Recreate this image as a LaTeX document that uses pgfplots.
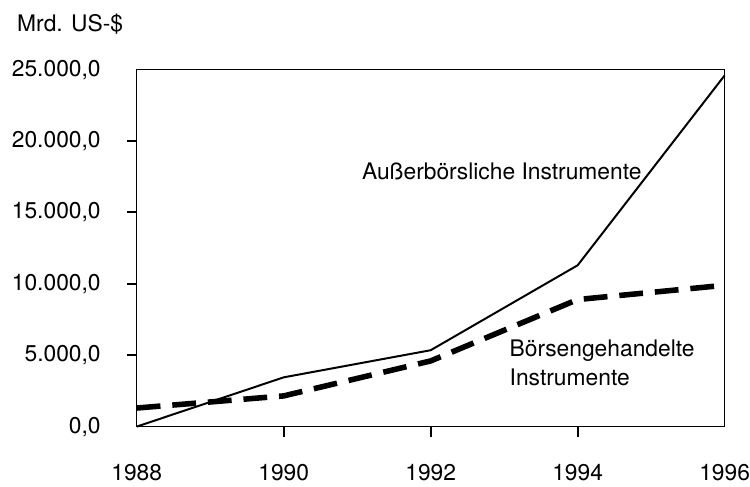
\documentclass[border={6pt 3pt 0pt 7pt}]{standalone}
\usepackage{pgfplots}
\pgfplotsset{compat=1.18}
\usepackage{fontspec}
\setmainfont{TeX Gyre Heros}
\begin{document}
\begin{tikzpicture}
\fontsize{11.5}{13}\selectfont
\begin{axis}[
  width=296.5pt, height=180pt, scale only axis,
  xmin=1988, xmax=1996, ymin=0, ymax=25000,
  axis line style={line width=0.7pt},
  xtick={1988,1990,1992,1994,1996},
  ytick={0,5000,10000,15000,20000,25000},
  major tick length=0pt,
  xticklabel style={/pgf/number format/.cd, 1000 sep={}, assume math mode=true, /tikz/.cd, inner sep=0pt, anchor=center, yshift=-23pt, font=\fontsize{11.5}{13}\selectfont},
  yticklabel style={/pgf/number format/.cd, fixed, fixed zerofill, precision=1, use comma, 1000 sep={.}, assume math mode=true, /tikz/.cd, inner sep=0pt, xshift=-18pt, anchor=east, font=\fontsize{11.5}{13}\selectfont},
  scaled y ticks=false,
  clip=false,
]
\pgfplotsinvokeforeach{5000,10000,15000,20000}{
  \draw[black, line width=1pt] (axis cs:1988,#1) -- ++(-5pt,0pt);}
\pgfplotsinvokeforeach{1990,1992,1994}{
  \draw[black, line width=1pt] (axis cs:#1,0) -- ++(0pt,-5pt);}
\addplot[black, line width=1pt] coordinates {
  (1988,0) (1990,3450) (1992,5350) (1994,11300) (1996,24600)};
\addplot[black, line width=2.8pt, dash pattern=on 12pt off 6pt] coordinates {
  (1988,1300) (1990,2150) (1992,4600) (1994,8900) (1996,9900)};
\node[anchor=west, inner sep=0pt] at (axis cs:1991.06,17900) {Außerbörsliche Instrumente};
\node[anchor=west, inner sep=0pt] at (axis cs:1993.07,5300) {Börsengehandelte};
\node[anchor=west, inner sep=0pt] at (axis cs:1993.07,3420) {Instrumente};
\node[anchor=west, inner sep=0pt] at ([xshift=-60.5pt, yshift=23pt]axis cs:1988,25000) {Mrd. US-\$};
\end{axis}
\end{tikzpicture}
\end{document}
